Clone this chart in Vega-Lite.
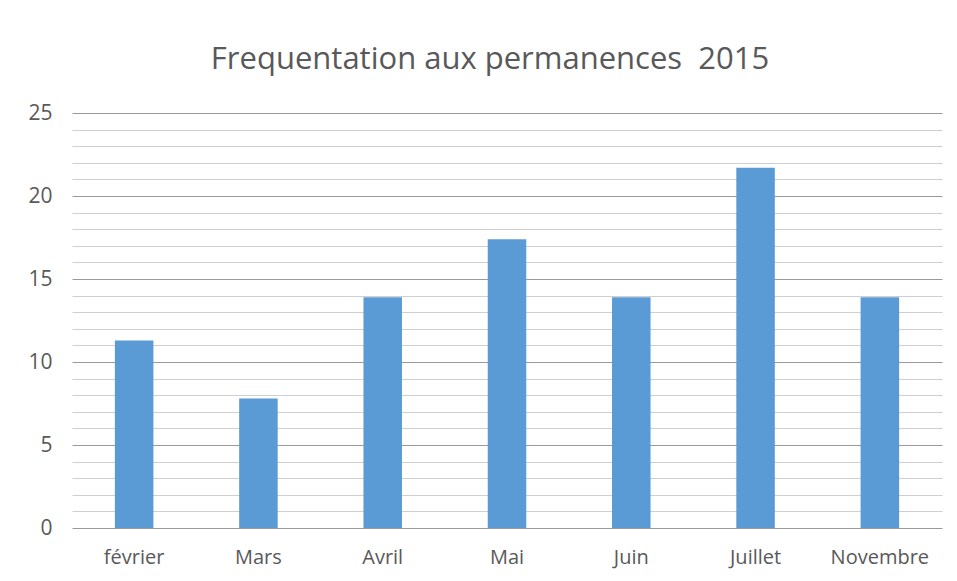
{
  "$schema": "https://vega.github.io/schema/vega-lite/v6.json",
  "autosize": {"type": "none"},
  "padding": {"left": 72, "top": 113, "right": 15, "bottom": 53},
  "width": 870,
  "height": 415,
  "background": "white",
  "title": {
    "text": "Frequentation aux permanences \u00a02015",
    "font": "Open Sans",
    "fontSize": 31,
    "fontWeight": "normal",
    "color": "#595959",
    "anchor": "middle",
    "dx": -17,
    "offset": 26
  },
  "data": {
    "values": [
      {"mois": "février", "valeur": 11.3},
      {"mois": "Mars", "valeur": 7.8},
      {"mois": "Avril", "valeur": 13.9},
      {"mois": "Mai", "valeur": 17.4},
      {"mois": "Juin", "valeur": 13.9},
      {"mois": "Juillet", "valeur": 21.7},
      {"mois": "Novembre", "valeur": 13.9}
    ]
  },
  "mark": {"type": "bar", "color": "#5B9BD5", "width": {"band": 0.31}},
  "encoding": {
    "x": {
      "field": "mois",
      "type": "nominal",
      "sort": null,
      "scale": {"paddingInner": 0, "paddingOuter": 0},
      "axis": {
        "title": null,
        "labelAngle": 0,
        "labelFont": "Open Sans",
        "labelFontSize": 20,
        "labelColor": "#595959",
        "labelPadding": 19,
        "ticks": false,
        "domain": false,
        "grid": false
      }
    },
    "y": {
      "field": "valeur",
      "type": "quantitative",
      "scale": {"domain": [0, 25], "nice": false},
      "axis": {
        "title": null,
        "values": [0,1,2,3,4,5,6,7,8,9,10,11,12,13,14,15,16,17,18,19,20,21,22,23,24,25],
        "labelExpr": "datum.value % 5 === 0 ? datum.label : ''",
        "labelFont": "Open Sans",
        "labelFontSize": 21,
        "labelColor": "#595959",
        "labelPadding": 20,
        "ticks": false,
        "domain": false,
        "grid": true,
        "gridColor": {"condition": {"test": "datum.value % 5 === 0", "value": "#9a9a9a"}, "value": "#cfcfcf"},
        "gridWidth": 1.2
      }
    }
  },
  "config": {"view": {"stroke": null}}
}
